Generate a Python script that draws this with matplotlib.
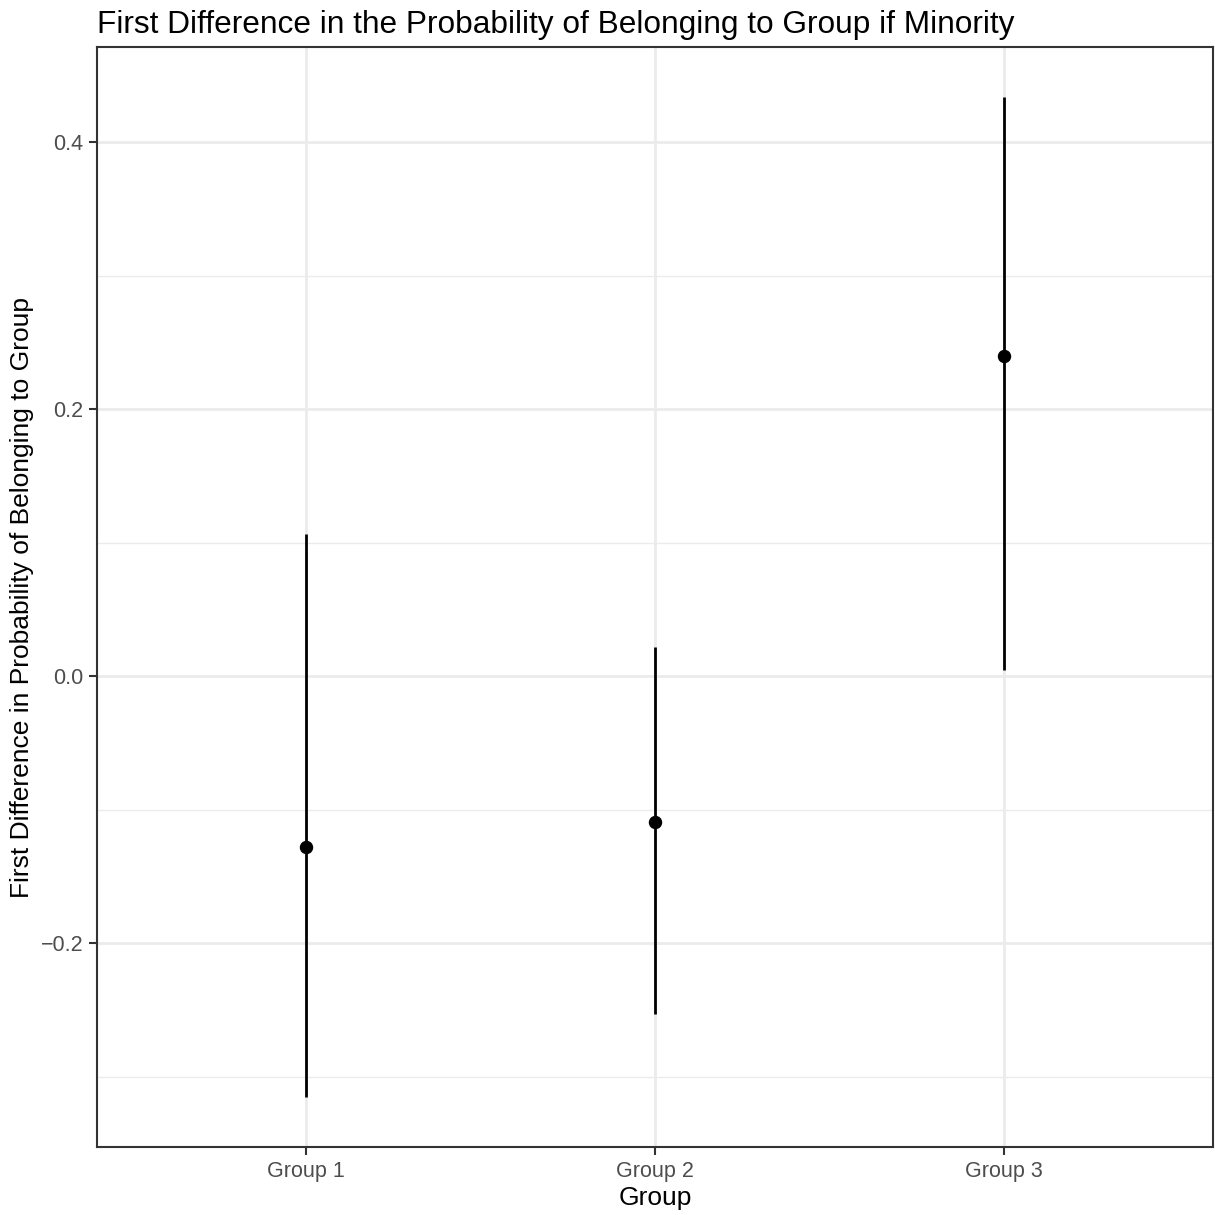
import matplotlib.pyplot as plt
import numpy as np

plt.rcParams['font.family'] = ['Liberation Sans', 'DejaVu Sans']

groups = ["Group 1", "Group 2", "Group 3"]
estimate = [-0.128, -0.109, 0.240]
lower = [-0.315, -0.253, 0.0045]
upper = [0.107, 0.022, 0.434]

fig = plt.figure(figsize=(12.15, 12.15), dpi=100)
ax = fig.add_axes([97 / 1215, 1 - 1147 / 1215, (1213 - 97) / 1215, (1147 - 47) / 1215])

x = np.arange(1, len(groups) + 1)
ax.vlines(x, lower, upper, color="black", linewidth=2.0, zorder=3)
ax.scatter(x, estimate, s=75, color="black", zorder=4)

span = max(upper) - min(lower)
ax.set_ylim(min(lower) - 0.05 * span, max(upper) + 0.05 * span)
ax.set_xlim(0.4, len(groups) + 0.6)

ax.set_xticks(x)
ax.set_xticklabels(groups)
ax.set_yticks([-0.2, 0.0, 0.2, 0.4])
ax.set_yticklabels(["\u22120.2", "0.0", "0.2", "0.4"])
ax.set_yticks([-0.3, -0.1, 0.1, 0.3], minor=True)

ax.grid(True, which="major", color="#EBEBEB", linewidth=2.0, zorder=0)
ax.grid(True, which="minor", axis="y", color="#EBEBEB", linewidth=1.0, zorder=0)
ax.set_axisbelow(True)

ax.tick_params(axis="both", which="major", length=6, width=1.5, color="#333333",
               labelcolor="#4D4D4D", labelsize=15.5, pad=4)
ax.tick_params(axis="y", which="minor", length=0)
for s in ax.spines.values():
    s.set_color("#333333")
    s.set_linewidth(1.5)

ax.set_xlabel("Group", fontsize=19, labelpad=3)
ax.set_ylabel("First Difference in Probability of Belonging to Group", fontsize=19, labelpad=5)
ax.set_title("First Difference in the Probability of Belonging to Group if Minority",
             fontsize=22.8, loc="left", pad=10)

fig.savefig("out.png", dpi=100)
